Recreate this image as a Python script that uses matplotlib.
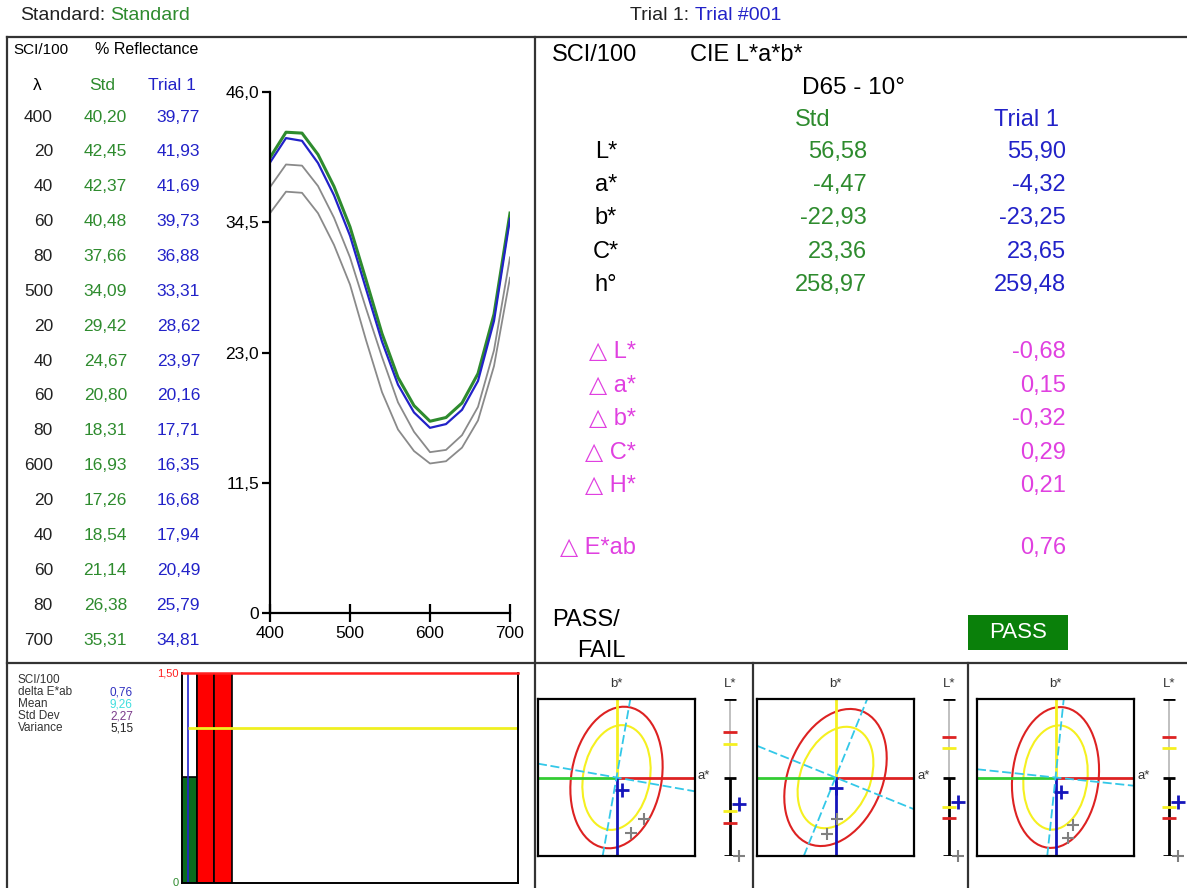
import numpy as np
import matplotlib
matplotlib.use('Agg')
import matplotlib.pyplot as plt
from matplotlib.patches import Ellipse, Rectangle
from matplotlib.transforms import blended_transform_factory

plt.rcParams['font.family'] = ['Liberation Sans', 'DejaVu Sans']

W, H = 1187, 888

# spectral data (% reflectance)
wavelengths = [400, 420, 440, 460, 480, 500, 520, 540, 560, 580, 600, 620, 640, 660, 680, 700]
std_refl = [40.20, 42.45, 42.37, 40.48, 37.66, 34.09, 29.42, 24.67, 20.80, 18.31, 16.93, 17.26, 18.54, 21.14, 26.38, 35.31]
trial_refl = [39.77, 41.93, 41.69, 39.73, 36.88, 33.31, 28.62, 23.97, 20.16, 17.71, 16.35, 16.68, 17.94, 20.49, 25.79, 34.81]
# gray reference curves
gray_upper = [37.6, 39.6, 39.5, 37.7, 34.9, 31.4, 26.9, 22.6, 18.6, 16.0, 14.2, 14.4, 15.7, 18.2, 23.2, 31.4]
gray_lower = [35.3, 37.2, 37.1, 35.3, 32.5, 29.0, 24.1, 19.5, 16.2, 14.3, 13.2, 13.4, 14.6, 17.0, 21.8, 29.6]

y_ticks = [0, 11.5, 23.0, 34.5, 46.0]
y_tick_labels = ['0', '11,5', '23,0', '34,5', '46,0']
x_ticks = [400, 500, 600, 700]

# CIE L*a*b* table
lab_names = ['L*', 'a*', 'b*', 'C*', 'h°']
std_lab = [56.58, -4.47, -22.93, 23.36, 258.97]
trial_lab = [55.90, -4.32, -23.25, 23.65, 259.48]
delta_names = ['△ L*', '△ a*', '△ b*', '△ C*', '△ H*']
delta_vals = [-0.68, 0.15, -0.32, 0.29, 0.21]
delta_e = 0.76

# statistics / history bars
stat_names = ['delta E*ab', 'Mean', 'Std Dev', 'Variance']
stat_vals = [0.76, 9.26, 2.27, 5.15]
stat_colors = ['#3030c0', '#40dede', '#7a3a8a', '#222222']
hist_values = [0.76, 1.50, 1.50]
hist_colors = ['#0b6b1e', '#ff0000', '#ff0000']
tol_limit = 1.50
warn_limit = 1.11

# tolerance ellipse panels (three illuminants)
ell_major = [1.82, 1.82, 1.80]
ell_minor = [1.15, 1.20, 1.10]
ell_angle = [80, 68, 84]
trial_da = [0.15, 0.00, 0.13]
trial_db = [-0.32, -0.28, -0.36]
other_da = [[0.69, 0.38], [0.05, -0.21], [0.44, 0.31]]
other_db = [[-1.05, -1.41], [-1.05, -1.44], [-1.20, -1.54]]
l_tol = [1.15, 1.03, 1.03]
trial_dl = [-0.68, -0.62, -0.62]
other_dl = [-2.0, -2.0, -2.0]

GREEN = '#2e8b2e'
BLUE = '#2222c8'
MAGENTA = '#e040e0'


def fmt(v):
    return f'{v:.2f}'.replace('.', ',')


fig = plt.figure(figsize=(W / 100, H / 100), dpi=100)


def px_axes(x0, y0, w, h):
    return fig.add_axes([x0 / W, 1 - (y0 + h) / H, w / W, h / H])


# overlay in pixel coordinates for frame and text
ov = px_axes(0, 0, W, H)
ov.set_xlim(0, W)
ov.set_ylim(H, 0)
ov.axis('off')

lc = '#333333'
ov.plot([7, W], [37, 37], color=lc, lw=1.6)
ov.plot([7, 7], [37, H], color=lc, lw=1.6)
ov.plot([535, 535], [37, H], color=lc, lw=1.6)
ov.plot([7, W], [663, 663], color=lc, lw=1.6)
ov.plot([753, 753], [663, H], color=lc, lw=1.6)
ov.plot([968, 968], [663, H], color=lc, lw=1.6)

# header
ov.text(20, 16, 'Standard:', fontsize=14, va='center', color='#222222')
ov.text(110, 16, 'Standard', fontsize=14, va='center', color=GREEN)
ov.text(630, 16, 'Trial 1:', fontsize=14, va='center', color='#222222')
ov.text(695, 16, 'Trial #001', fontsize=14, va='center', color=BLUE)

# left reflectance table
ov.text(13, 50, 'SCI/100', fontsize=11, va='center')
ov.text(95, 50, '% Reflectance', fontsize=11.5, va='center')
ov.text(37, 86, 'λ', fontsize=12.5, va='center', ha='center')
ov.text(102, 86, 'Std', fontsize=12.5, va='center', ha='center', color=GREEN)
ov.text(172, 86, 'Trial 1', fontsize=12.5, va='center', ha='center', color=BLUE)
for i, w in enumerate(wavelengths):
    y = 117 + i * 34.87
    lab = str(w) if w % 100 == 0 else str(w % 100)
    ov.text(53, y, lab, fontsize=12.5, va='center', ha='right', color='#222222')
    ov.text(127, y, fmt(std_refl[i]), fontsize=12.5, va='center', ha='right', color=GREEN)
    ov.text(200, y, fmt(trial_refl[i]), fontsize=12.5, va='center', ha='right', color=BLUE)

# right CIE table
ov.text(552, 55, 'SCI/100', fontsize=17, va='center')
ov.text(690, 55, 'CIE L*a*b*', fontsize=17, va='center')
ov.text(854, 88, 'D65 - 10°', fontsize=17.5, va='center', ha='center')
ov.text(813, 120, 'Std', fontsize=17, va='center', ha='center', color=GREEN)
ov.text(1027, 120, 'Trial 1', fontsize=17, va='center', ha='center', color=BLUE)
for i, name in enumerate(lab_names):
    y = 152 + i * 33.2
    ov.text(606, y, name, fontsize=17, va='center', ha='center')
    ov.text(867, y, fmt(std_lab[i]), fontsize=17, va='center', ha='right', color=GREEN)
    ov.text(1066, y, fmt(trial_lab[i]), fontsize=17, va='center', ha='right', color=BLUE)
for i, name in enumerate(delta_names):
    y = 352 + i * 33.5
    ov.text(636, y, name, fontsize=17, va='center', ha='right', color=MAGENTA)
    ov.text(1066, y, fmt(delta_vals[i]), fontsize=17, va='center', ha='right', color=MAGENTA)
ov.text(636, 548, '△ E*ab', fontsize=17, va='center', ha='right', color=MAGENTA)
ov.text(1066, 548, fmt(delta_e), fontsize=17, va='center', ha='right', color=MAGENTA)
ov.text(552, 620, 'PASS/', fontsize=17, va='center')
ov.text(577, 651, 'FAIL', fontsize=17, va='center')
ov.add_patch(Rectangle((968, 615), 100, 35, facecolor='#0a800a', edgecolor='none'))
ov.text(1018, 632, 'PASS', fontsize=16, va='center', ha='center', color='white')

# bottom-left statistics
ov.text(18, 680, 'SCI/100', fontsize=8.5, va='center', color='#333333')
for i, name in enumerate(stat_names):
    y = 692 + i * 12
    ov.text(18, y, name, fontsize=8.5, va='center', color='#333333')
    ov.text(110, y, fmt(stat_vals[i]), fontsize=8.5, va='center', color=stat_colors[i])

# spectral curve plot
sp = px_axes(270, 92, 240, 521)
sp.patch.set_visible(False)
sp.plot(wavelengths, gray_lower, color='#8a8a8a', lw=1.3)
sp.plot(wavelengths, gray_upper, color='#8a8a8a', lw=1.3)
sp.plot(wavelengths, std_refl, color=GREEN, lw=2.2)
sp.plot(wavelengths, trial_refl, color=BLUE, lw=1.6)
sp.set_xlim(400, 700)
sp.set_ylim(0, 46)
for s in ['top', 'right']:
    sp.spines[s].set_visible(False)
for s in ['left', 'bottom']:
    sp.spines[s].set_linewidth(1.6)
sp.set_yticks(y_ticks)
sp.set_yticklabels(y_tick_labels)
sp.set_xticks(x_ticks)
sp.tick_params(axis='y', direction='out', length=6, width=1.6, labelsize=12.5, pad=2)
sp.tick_params(axis='x', direction='inout', length=13, width=1.6, labelsize=12.5, pad=3)

# history bar chart
bx = px_axes(182, 673, 336, 210)
bx.patch.set_visible(False)
bx.set_xlim(0.15, 19.35)
bx.set_ylim(0, tol_limit)
bx.bar(0, tol_limit, width=1, align='edge', facecolor='white', edgecolor='black', lw=1.2)
bx.bar(range(len(hist_values)), hist_values, width=1, align='edge', color=hist_colors,
       edgecolor='black', lw=1.2)
bx.axvline(0.5, color='#2222cc', lw=1.2)
bx.hlines(warn_limit, 0.5, 19.35, color='#f0f020', lw=2)
bx.set_xticks([])
bx.set_yticks([])
for s in ['left', 'right', 'bottom']:
    bx.spines[s].set_linewidth(1.4)
bx.spines['top'].set_color('#ff2020')
bx.spines['top'].set_linewidth(1.8)
tr = blended_transform_factory(bx.transAxes, bx.transData)
bx.text(-0.01, tol_limit, '1,50', transform=tr, fontsize=8, color='#ff2020', ha='right', va='center')
bx.text(-0.01, 0, '0', transform=tr, fontsize=8, color=GREEN, ha='right', va='center')

# tolerance ellipse panels
box_x = [538, 757, 977]
for i in range(3):
    x0 = box_x[i]
    ea = px_axes(x0, 699, 157, 157)
    ea.patch.set_visible(False)
    ea.set_xlim(-2, 2)
    ea.set_ylim(-2, 2)
    ea.set_xticks([])
    ea.set_yticks([])
    for s in ea.spines.values():
        s.set_linewidth(1.6)
    ea.axhline(0, 0, 0.5, color='#33cc33', lw=2)
    ea.axhline(0, 0.5, 1, color='#dd2222', lw=2)
    ea.axvline(0, 0.5, 1, color='#f5f020', lw=2)
    ea.axvline(0, 0, 0.5, color='#1515bb', lw=2)
    k = warn_limit / tol_limit
    ea.add_patch(Ellipse((0, 0), 2 * ell_major[i] * k, 2 * ell_minor[i] * k, angle=ell_angle[i],
                         fill=False, edgecolor='#f5f020', lw=1.5))
    ea.add_patch(Ellipse((0, 0), 2 * ell_major[i], 2 * ell_minor[i], angle=ell_angle[i],
                         fill=False, edgecolor='#dd2222', lw=1.5))
    t = np.deg2rad(ell_angle[i])
    ea.axline((0, 0), slope=np.tan(t), color='#33c8e8', lw=1.3, ls=(0, (5, 2)))
    ea.axline((0, 0), slope=np.tan(t - np.pi / 2), color='#33c8e8', lw=1.3, ls=(0, (5, 2)))
    ea.plot(other_da[i], other_db[i], '+', color='#808080', ms=9, mew=1.5)
    ea.plot(trial_da[i], trial_db[i], '+', color='#1515bb', ms=10, mew=2)
    ov.text(x0 + 78, 684, 'b*', fontsize=9.5, ha='center', va='center', color='#333333')
    ov.text(x0 + 160, 776, 'a*', fontsize=9.5, ha='left', va='center', color='#333333')
    ov.text(x0 + 192, 684, 'L*', fontsize=9.5, ha='center', va='center', color='#333333')

    la = px_axes(x0 + 177, 699, 30, 157)
    la.set_xlim(-1, 1)
    la.set_ylim(-2, 2)
    la.axis('off')
    la.vlines(0, 0, 2, color='#bbbbbb', lw=1.3)
    la.vlines(0, -2, 0, color='black', lw=2)
    la.hlines([-2, 0, 2], -0.4, 0.4, color='black', lw=2)
    la.hlines([l_tol[i], -l_tol[i]], -0.45, 0.45, color='#dd2222', lw=2)
    la.hlines([l_tol[i] * k, -l_tol[i] * k], -0.45, 0.45, color='#f5f020', lw=2)
    la.plot(0.6, trial_dl[i], '+', color='#1515bb', ms=10, mew=2, clip_on=False)
    la.plot(0.6, other_dl[i], '+', color='#808080', ms=9, mew=1.5, clip_on=False)

fig.savefig('out.png', dpi=100)
